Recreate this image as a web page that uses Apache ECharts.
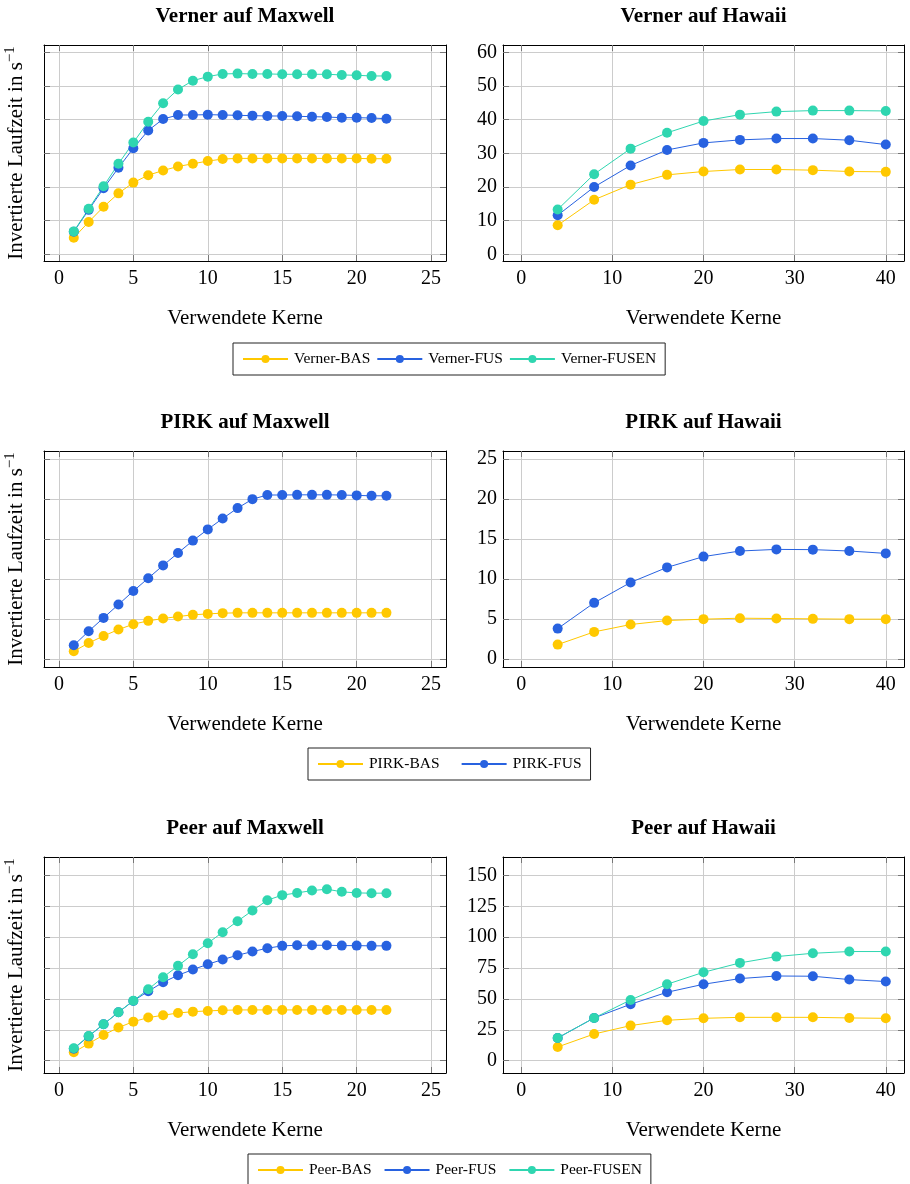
<!DOCTYPE html>
<html>
<head>
<meta charset="utf-8">
<script src="https://cdn.jsdelivr.net/npm/echarts@6/dist/echarts.min.js"></script>
<style>
  html, body { margin: 0; padding: 0; background: #ffffff; }
  #chart { width: 910px; height: 1184px; }
</style>
</head>
<body>
<div id="chart"></div>
<script>
// Kerne (x)
const coresMaxwell = [1, 2, 3, 4, 5, 6, 7, 8, 9, 10, 11, 12, 13, 14, 15, 16, 17, 18, 19, 20, 21, 22];
const coresHawaii = [4, 8, 12, 16, 20, 24, 28, 32, 36, 40];

// Verner
const vernerMaxwellBAS = [4.9, 9.6, 14.1, 18.1, 21.3, 23.5, 24.9, 26.1, 26.9, 27.7, 28.3, 28.5, 28.5, 28.5, 28.5, 28.5, 28.5, 28.5, 28.5, 28.5, 28.4, 28.4];
const vernerMaxwellFUS = [6.7, 13.2, 19.6, 25.7, 31.5, 36.8, 40.2, 41.4, 41.4, 41.5, 41.4, 41.3, 41.2, 41.1, 41.1, 41.0, 40.9, 40.8, 40.6, 40.6, 40.5, 40.3];
const vernerMaxwellFUSEN = [6.8, 13.5, 20.2, 26.9, 33.2, 39.4, 44.9, 49.0, 51.6, 52.8, 53.6, 53.7, 53.6, 53.6, 53.5, 53.5, 53.5, 53.5, 53.3, 53.2, 53.0, 53.0];
const vernerHawaiiBAS = [8.6, 16.2, 20.7, 23.6, 24.6, 25.2, 25.2, 25.0, 24.6, 24.5];
const vernerHawaiiFUS = [11.6, 20.0, 26.4, 31.0, 33.1, 34.0, 34.4, 34.4, 33.9, 32.6];
const vernerHawaiiFUSEN = [13.3, 23.8, 31.4, 36.1, 39.6, 41.5, 42.4, 42.7, 42.7, 42.6];

// PIRK
const pirkMaxwellBAS = [0.96, 2.0, 2.88, 3.68, 4.35, 4.77, 5.06, 5.31, 5.52, 5.64, 5.73, 5.77, 5.77, 5.77, 5.77, 5.77, 5.77, 5.77, 5.77, 5.77, 5.77, 5.77];
const pirkMaxwellFUS = [1.71, 3.47, 5.14, 6.81, 8.49, 10.1, 11.7, 13.25, 14.8, 16.2, 17.56, 18.86, 19.98, 20.5, 20.5, 20.52, 20.52, 20.52, 20.5, 20.45, 20.4, 20.4];
const pirkHawaiiBAS = [1.8, 3.39, 4.31, 4.81, 4.98, 5.1, 5.06, 5.02, 4.98, 4.98];
const pirkHawaiiFUS = [3.8, 7.02, 9.57, 11.45, 12.8, 13.5, 13.7, 13.67, 13.5, 13.2];

// Peer
const peerMaxwellBAS = [6.8, 13.8, 20.8, 26.8, 31.6, 34.9, 36.8, 38.6, 39.7, 40.3, 40.8, 41.1, 41.1, 41.1, 41.1, 41.1, 41.1, 41.1, 41.1, 41.1, 41.1, 41.1];
const peerMaxwellFUS = [9.7, 19.7, 29.5, 39.2, 48.4, 56.2, 63.5, 69.2, 73.8, 78.1, 81.9, 85.4, 88.4, 91.1, 93.0, 93.5, 93.5, 93.5, 93.2, 93.2, 93.0, 93.0];
const peerMaxwellFUSEN = [10.0, 20.0, 29.5, 39.2, 48.6, 57.8, 67.6, 76.8, 86.2, 95.1, 104.1, 113.0, 121.6, 130.0, 134.1, 135.9, 137.8, 138.9, 136.8, 135.9, 135.7, 135.7];
const peerHawaiiBAS = [11.1, 21.6, 28.4, 32.7, 34.3, 35.1, 35.1, 35.1, 34.6, 34.3];
const peerHawaiiFUS = [18.4, 34.6, 45.7, 55.4, 61.9, 66.5, 68.6, 68.4, 65.7, 64.1];
const peerHawaiiFUSEN = [18.4, 34.6, 49.2, 61.9, 71.6, 79.2, 84.3, 87.0, 88.4, 88.4];

// Tick-Werte
const maxwellXTicks = [0, 5, 10, 15, 20, 25];
const hawaiiXTicks = [0, 10, 20, 30, 40];
const vernerYTicks = [0, 10, 20, 30, 40, 50, 60];
const pirkYTicks = [0, 5, 10, 15, 20, 25];
const peerYTicks = [0, 25, 50, 75, 100, 125, 150];

const colBAS = '#ffc800';
const colFUS = '#2862e0';
const colFUSEN = '#2fd6b0';

const FONT = 'Liberation Serif';

const grids = [], xAxes = [], yAxes = [], series = [], titles = [];

function zip(xs, ys) {
  return xs.map((x, i) => [x, ys[i]]);
}

function panel(opt) {
  const idx = grids.length;
  grids.push({ left: opt.left, top: opt.top, width: opt.width, height: 216, containLabel: false });
  titles.push({
    text: opt.title,
    left: opt.left + opt.width / 2,
    top: opt.top - 39,
    textAlign: 'center',
    padding: 0,
    textStyle: { fontFamily: FONT, fontSize: 21, fontWeight: 'bold', color: '#000' }
  });
  const tick = { show: true, inside: true, length: 6, lineStyle: { color: '#777', width: 1 } };
  const frame = { show: true, onZero: false, lineStyle: { color: '#000', width: 1 } };
  const grid = { show: true, lineStyle: { color: '#cccccc', width: 1 } };
  xAxes.push({
    type: 'value', gridIndex: idx, position: 'bottom',
    min: opt.xMin, max: opt.xMax,
    axisLine: frame,
    axisTick: Object.assign({ customValues: opt.xTicks }, tick),
    axisLabel: { customValues: opt.xTicks, fontFamily: FONT, fontSize: 20, color: '#000', margin: 8 },
    splitLine: grid,
    name: 'Verwendete Kerne', nameLocation: 'middle', nameGap: 47,
    nameTextStyle: { fontFamily: FONT, fontSize: 21, color: '#000' }
  });
  xAxes.push({
    type: 'value', gridIndex: idx, position: 'top',
    min: opt.xMin, max: opt.xMax,
    axisLine: frame,
    axisTick: Object.assign({ customValues: opt.xTicks }, tick),
    axisLabel: { show: false },
    splitLine: { show: false }
  });
  const yLeft = {
    type: 'value', gridIndex: idx, position: 'left',
    min: opt.yMin, max: opt.yMax,
    axisLine: frame,
    axisTick: Object.assign({ customValues: opt.yTicks }, tick),
    axisLabel: { show: opt.yLabels, customValues: opt.yTicks, fontFamily: FONT, fontSize: 20, color: '#000', margin: 6 },
    splitLine: grid
  };
  if (opt.yTitle) {
    yLeft.name = '{a|Invertierte Laufzeit in s}{b|\u22121}';
    yLeft.nameLocation = 'middle';
    yLeft.nameGap = 17;
    yLeft.nameTextStyle = {
      fontFamily: FONT, fontSize: 21, color: '#000',
      rich: {
        a: { fontFamily: FONT, fontSize: 21, color: '#000', verticalAlign: 'bottom', lineHeight: 24 },
        b: { fontFamily: FONT, fontSize: 15, color: '#000', verticalAlign: 'top', lineHeight: 24 }
      }
    };
  }
  yAxes.push(yLeft);
  yAxes.push({
    type: 'value', gridIndex: idx, position: 'right',
    min: opt.yMin, max: opt.yMax,
    axisLine: frame,
    axisTick: Object.assign({ customValues: opt.yTicks }, tick),
    axisLabel: { show: false },
    splitLine: { show: false }
  });
  opt.lines.forEach(function (l) {
    series.push({
      type: 'line', name: l.name,
      xAxisIndex: idx * 2, yAxisIndex: idx * 2,
      data: zip(opt.xs, l.ys),
      symbol: 'circle', symbolSize: 10,
      clip: false,
      color: l.color,
      lineStyle: { color: l.color, width: 1 },
      itemStyle: { color: l.color }
    });
  });
}

const LX = 44, LW = 402, RX = 503, RW = 401;
const rowTops = [45, 451, 857];

panel({ left: LX, width: LW, top: rowTops[0], title: 'Verner auf Maxwell', xs: coresMaxwell,
  xMin: -1, xMax: 26, xTicks: maxwellXTicks, yMin: -2, yMax: 62.2, yTicks: vernerYTicks, yLabels: false, yTitle: true,
  lines: [{ name: 'Verner-BAS', ys: vernerMaxwellBAS, color: colBAS }, { name: 'Verner-FUS', ys: vernerMaxwellFUS, color: colFUS }, { name: 'Verner-FUSEN', ys: vernerMaxwellFUSEN, color: colFUSEN }] });
panel({ left: RX, width: RW, top: rowTops[0], title: 'Verner auf Hawaii', xs: coresHawaii,
  xMin: -2, xMax: 42, xTicks: hawaiiXTicks, yMin: -2, yMax: 62.2, yTicks: vernerYTicks, yLabels: true, yTitle: false,
  lines: [{ name: 'Verner-BAS', ys: vernerHawaiiBAS, color: colBAS }, { name: 'Verner-FUS', ys: vernerHawaiiFUS, color: colFUS }, { name: 'Verner-FUSEN', ys: vernerHawaiiFUSEN, color: colFUSEN }] });
panel({ left: LX, width: LW, top: rowTops[1], title: 'PIRK auf Maxwell', xs: coresMaxwell,
  xMin: -1, xMax: 26, xTicks: maxwellXTicks, yMin: -1, yMax: 26, yTicks: pirkYTicks, yLabels: false, yTitle: true,
  lines: [{ name: 'PIRK-BAS', ys: pirkMaxwellBAS, color: colBAS }, { name: 'PIRK-FUS', ys: pirkMaxwellFUS, color: colFUS }] });
panel({ left: RX, width: RW, top: rowTops[1], title: 'PIRK auf Hawaii', xs: coresHawaii,
  xMin: -2, xMax: 42, xTicks: hawaiiXTicks, yMin: -1, yMax: 26, yTicks: pirkYTicks, yLabels: true, yTitle: false,
  lines: [{ name: 'PIRK-BAS', ys: pirkHawaiiBAS, color: colBAS }, { name: 'PIRK-FUS', ys: pirkHawaiiFUS, color: colFUS }] });
panel({ left: LX, width: LW, top: rowTops[2], title: 'Peer auf Maxwell', xs: coresMaxwell,
  xMin: -1, xMax: 26, xTicks: maxwellXTicks, yMin: -10, yMax: 165, yTicks: peerYTicks, yLabels: false, yTitle: true,
  lines: [{ name: 'Peer-BAS', ys: peerMaxwellBAS, color: colBAS }, { name: 'Peer-FUS', ys: peerMaxwellFUS, color: colFUS }, { name: 'Peer-FUSEN', ys: peerMaxwellFUSEN, color: colFUSEN }] });
panel({ left: RX, width: RW, top: rowTops[2], title: 'Peer auf Hawaii', xs: coresHawaii,
  xMin: -2, xMax: 42, xTicks: hawaiiXTicks, yMin: -10, yMax: 165, yTicks: peerYTicks, yLabels: true, yTitle: false,
  lines: [{ name: 'Peer-BAS', ys: peerHawaiiBAS, color: colBAS }, { name: 'Peer-FUS', ys: peerHawaiiFUS, color: colFUS }, { name: 'Peer-FUSEN', ys: peerHawaiiFUSEN, color: colFUSEN }] });

function legend(names, left, top, gap) {
  return {
    data: names, top: top, left: left, orient: 'horizontal',
    itemWidth: 45, itemHeight: 10, itemGap: gap,
    padding: [8, 9], borderColor: '#222', borderWidth: 1,
    textStyle: { fontFamily: FONT, fontSize: 15.5, color: '#000', padding: [0, 0, 0, 1] },
    selectedMode: false
  };
}

const chart = echarts.init(document.getElementById('chart'));
chart.setOption({
  animation: false,
  backgroundColor: '#ffffff',
  title: titles,
  legend: [
    legend(['Verner-BAS', 'Verner-FUS', 'Verner-FUSEN'], 233, 343, 6),
    legend(['PIRK-BAS', 'PIRK-FUS'], 308, 748, 21),
    legend(['Peer-BAS', 'Peer-FUS', 'Peer-FUSEN'], 248, 1154, 12)
  ],
  grid: grids,
  xAxis: xAxes,
  yAxis: yAxes,
  series: series
});
</script>
</body>
</html>
